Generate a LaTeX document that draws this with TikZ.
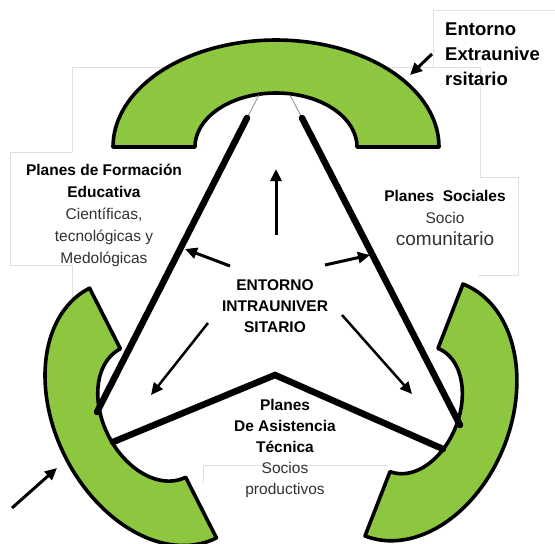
\documentclass[tikz,border=0pt]{standalone}
\usepackage{fontspec}
\setmainfont{Liberation Sans}
\usetikzlibrary{arrows.meta}
\definecolor{ringgreen}{RGB}{141,198,63}
\definecolor{txtgray}{RGB}{50,50,50}
\begin{document}
\begin{tikzpicture}[x=1pt,y=-1pt,
  ring/.style={fill=ringgreen,draw=black,line width=3.6pt,line join=round},
  beam/.style={line width=6.5pt,line cap=round},
  thinlink/.style={draw=black!45,line width=0.8pt},
  arr/.style={line width=3pt,-{Triangle[length=12pt,width=11pt]}},
  faint/.style={draw=black!12,line width=0.7pt},
  txt/.style={font=\fontsize{15.5}{22}\selectfont,align=center,inner sep=0pt},
  bigtxt/.style={font=\fontsize{18.5}{25.5}\selectfont\bfseries,align=left,inner sep=0pt,anchor=west}]
\useasboundingbox (0,0) rectangle (555,544);
\fill[white] (0,0) rectangle (555,544);

% faint remnants of text boxes
\draw[faint] (72,152) -- (72,67) -- (480,67) -- (480,177) -- (518,177) -- (518,275) -- (478,275);
\draw[faint] (433,67) -- (433,10) -- (555,10);
\draw[faint] (72,152) -- (10,152) -- (10,265) -- (72,265) -- (72,305);
\draw[faint] (203,483) -- (203,465) -- (388,465);

% rings
\draw[ring] plot[domain=0:180,samples=90] ({276+163*cos(\x)},{147-107*sin(\x)})
  -- plot[domain=180:0,samples=90] ({276+81*cos(\x)},{147-54*sin(\x)}) -- cycle;
\draw[ring] plot[domain=0:180,samples=90] ({153+140*cos(\x)*0.453-98*sin(\x)*0.892},{413+140*cos(\x)*0.892+98*sin(\x)*0.453})
  -- plot[domain=180:0,samples=90] ({153+72*cos(\x)*0.453-50*sin(\x)*0.892},{413+72*cos(\x)*0.892+50*sin(\x)*0.453}) -- cycle;
\draw[ring] plot[domain=0:180,samples=90] ({414-135*cos(\x)*0.363+97*sin(\x)*0.933},{410+135*cos(\x)*0.933+97*sin(\x)*0.363})
  -- plot[domain=180:0,samples=90] ({414-66*cos(\x)*0.363+45*sin(\x)*0.933},{410+66*cos(\x)*0.933+45*sin(\x)*0.363}) -- cycle;

% triangle beams
\coordinate (tl) at (247,118);
\coordinate (tr) at (302,118);
\coordinate (bl) at (97,412);
\coordinate (br) at (460,425);
\coordinate (vl) at (113,442);
\coordinate (va) at (275,375);
\coordinate (vr) at (443,449);
\coordinate (hl) at (259,95);
\coordinate (hr) at (290,95);
\draw[thinlink] (hl) -- (tl);
\draw[thinlink] (hr) -- (tr);
\draw[beam] (tl) -- (bl);
\draw[beam] (tr) -- (br);
\draw[beam,line join=miter] (vl) -- (va) -- (vr);

% arrows
\coordinate (u0) at (276,235); \coordinate (u1) at (276,169);
\coordinate (l0) at (230,266); \coordinate (l1) at (185,249);
\coordinate (r0) at (325,265); \coordinate (r1) at (370,255);
\coordinate (dl0) at (208,323); \coordinate (dl1) at (151,395);
\coordinate (dr0) at (342,315); \coordinate (dr1) at (412,394);
\coordinate (e0) at (432,54); \coordinate (e1) at (410,75);
\coordinate (f0) at (12,508); \coordinate (f1) at (57,468);
\draw[arr] (u0) -- (u1);
\draw[arr] (l0) -- (l1);
\draw[arr] (r0) -- (r1);
\draw[arr,line width=2.5pt] (dl0) -- (dl1);
\draw[arr,line width=2.5pt] (dr0) -- (dr1);
\draw[arr] (e0) -- (e1);
\draw[arr] (f0) -- (f1);

% texts
\node[bigtxt] (extra) at (445,54) {Entorno\\[-0.5pt]Extraunive\\rsitario};
\node[txt] (forma) at (104,215) {\textbf{Planes de Formación}\\\textbf{Educativa}\\{\color{txtgray}Científicas,}\\{\color{txtgray}tecnológicas y}\\{\color{txtgray}Medológicas}};
\node[txt] (social) at (445,218) {\textbf{Planes\ \ Sociales}\\{\color{txtgray}Socio}\\{\color{txtgray}\fontsize{19}{22}\selectfont comunitario}};
\node[txt,font=\fontsize{15.5}{21}\selectfont\bfseries] (intra) at (275,306) {ENTORNO\\INTRAUNIVER\\SITARIO};
\node[txt,font=\fontsize{15.5}{20.8}\selectfont] (asist) at (285,448.5) {\textbf{Planes}\\\textbf{De Asistencia}\\\textbf{Técnica}\\{\color{txtgray}Socios}\\{\color{txtgray}productivos}};
\end{tikzpicture}
\end{document}
